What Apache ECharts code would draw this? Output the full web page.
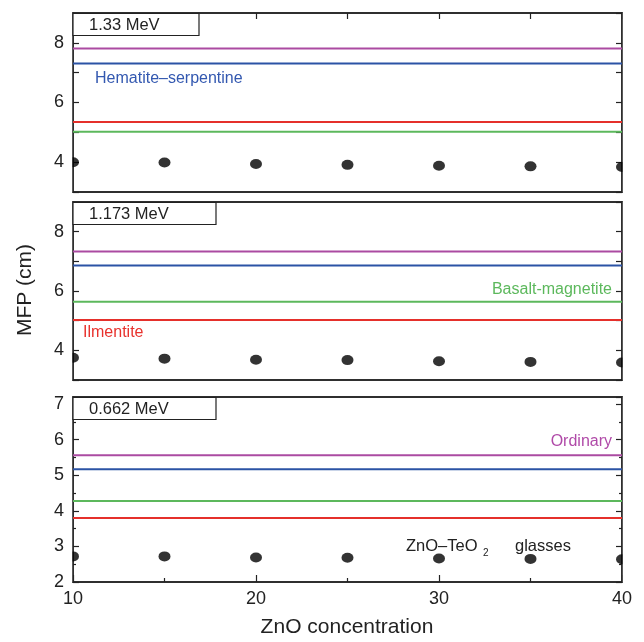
<!DOCTYPE html>
<html>
<head>
<meta charset="utf-8">
<script src="https://cdn.jsdelivr.net/npm/echarts@6/dist/echarts.min.js"></script>
<style>html,body{margin:0;padding:0;background:#fff}#c{width:644px;height:642px}</style>
</head>
<body>
<div id="c"></div>
<script>
// ---- data ----
const energies = ['1.33 MeV', '1.173 MeV', '0.662 MeV'];
const zno = [10, 15, 20, 25, 30, 35, 40];
const glass133 = [4.00, 3.99, 3.94, 3.91, 3.88, 3.86, 3.84];
const glass1173 = [3.75, 3.72, 3.68, 3.67, 3.63, 3.61, 3.59];
const glass0662 = [2.72, 2.72, 2.69, 2.68, 2.66, 2.65, 2.64];
const ordinary = [7.81, 7.33, 5.56];
const hematiteSerpentine = [7.31, 6.86, 5.17];
const basaltMagnetite = [5.02, 5.64, 4.28];
const ilmenite = [5.35, 5.02, 3.80];
const yMin = [3, 3, 2];
const yMax = [9, 9, 7.2];
const xTicks = [10, 20, 30, 40];

const glassSets = [glass133, glass1173, glass0662];
const FONT = '"Liberation Sans", Arial, sans-serif';
const AX = '#222';
const C = { purple: '#ab4ba2', blue: '#2b53a5', red: '#e5302b', green: '#5cb85c' };

const grids = [
  { left: 73, right: 22, top: 13, height: 179 },
  { left: 73, right: 22, top: 202, height: 178 },
  { left: 73, right: 22, top: 397, height: 185 }
].map(g => Object.assign(g, { show: true, borderColor: AX, borderWidth: 1.5, backgroundColor: 'transparent' }));

const xAxes = [], yAxes = [], series = [];
for (let i = 0; i < 3; i++) {
  const isBottom = i === 2;
  xAxes.push({
    type: 'value', gridIndex: i, min: 10, max: 40, interval: 10, position: 'bottom',
    axisLine: { show: true, lineStyle: { color: AX, width: 1.5 } },
    axisTick: { show: isBottom, inside: true, length: 7, lineStyle: { color: AX, width: 1.2 } },
    minorTick: { show: isBottom, splitNumber: 2, length: 4, lineStyle: { color: AX, width: 1.2 } },
    axisLabel: { show: isBottom, fontFamily: FONT, fontSize: 18, color: '#222', margin: 8,
      formatter: v => xTicks.indexOf(v) >= 0 ? String(v) : '' },
    splitLine: { show: false }
  });
  xAxes.push({
    type: 'value', gridIndex: i, min: 10, max: 40, interval: 5, position: 'top',
    axisLine: { show: true, lineStyle: { color: AX, width: 1.5 } },
    axisTick: { show: i === 0, inside: true, length: 6, lineStyle: { color: AX, width: 1.2 } },
    axisLabel: { show: false }, splitLine: { show: false }
  });
  const yCommon = {
    type: 'value', gridIndex: i, min: yMin[i], max: yMax[i], interval: 1,
    axisLine: { show: true, lineStyle: { color: AX, width: 1.5 } },
    axisTick: { show: true, inside: true, length: 6, lineStyle: { color: AX, width: 1.2 } },
    minorTick: { show: isBottom, splitNumber: 2, length: 3, lineStyle: { color: AX, width: 1.2 } },
    splitLine: { show: false }
  };
  yAxes.push(Object.assign({}, yCommon, {
    position: 'left',
    axisLabel: { show: true, fontFamily: FONT, fontSize: 18, color: '#222', margin: 9,
      formatter: v => {
        if (Math.abs(v - Math.round(v)) > 1e-6) return '';
        if (!isBottom && Math.round(v) % 2 !== 0) return '';
        return String(Math.round(v));
      } }
  }));
  yAxes.push(Object.assign({}, yCommon, { position: 'right', axisLabel: { show: false } }));

  const hl = (vals, color) => ({
    type: 'line', xAxisIndex: 2 * i, yAxisIndex: 2 * i, symbol: 'none', silent: true,
    lineStyle: { color, width: 2 }, data: [[10, vals[i]], [40, vals[i]]], z: 2
  });
  series.push(hl(ordinary, C.purple), hl(hematiteSerpentine, C.blue), hl(ilmenite, C.red), hl(basaltMagnetite, C.green));
  series.push({
    type: 'scatter', xAxisIndex: 2 * i, yAxisIndex: 2 * i, symbol: 'circle', symbolSize: [12, 10],
    clip: true, itemStyle: { color: '#000' }, z: 3,
    data: zno.map((x, k) => [x, glassSets[i][k]])
  });
}

const txt = (x, y, text, color, opts, z) => ({
  type: 'text', x, y, silent: true, z: z || 50,
  style: Object.assign({ text, fill: color, font: '16px ' + FONT, textVerticalAlign: 'middle', textAlign: 'left' }, opts || {})
});

const boxW = [126, 143, 143];
const decor = [];
for (let i = 0; i < 3; i++) {
  const g = grids[i];
  // white masks so the end markers appear cut by the frame
  decor.push({ type: 'rect', silent: true, z: 40, shape: { x: 64, y: g.top, width: 8.2, height: g.height }, style: { fill: '#fff' } });
  decor.push({ type: 'rect', silent: true, z: 40, shape: { x: 622.8, y: g.top, width: 10, height: g.height }, style: { fill: '#fff' } });
  decor.push({ type: 'rect', silent: true, shape: { x: 73, y: g.top + 0.5, width: boxW[i], height: 22 },
    style: { fill: '#fff', stroke: '#222', lineWidth: 1.2 }, z: 100 });
  decor.push(txt(89, g.top + 12, energies[i], '#222', { font: '16.5px ' + FONT }, 101));
}

const graphics = decor.concat([
  txt(95, 79, 'Hematite–serpentine', '#3358b0'),
  txt(612, 290, 'Basalt-magnetite', '#5cb85c', { textAlign: 'right' }),
  txt(83, 333, 'Ilmentite', '#e8322d'),
  txt(612, 442, 'Ordinary', '#b04aa8', { textAlign: 'right' }),
  txt(406, 546, 'ZnO–TeO', '#222', { font: '16.5px ' + FONT }),
  txt(483, 553, '2', '#222', { font: '10px ' + FONT }),
  txt(515, 546, 'glasses', '#222', { font: '16.5px ' + FONT }),
  { type: 'text', x: 25, y: 290, rotation: Math.PI / 2, silent: true, z: 50,
    style: { text: 'MFP (cm)', fill: '#222', font: '21px ' + FONT, textAlign: 'center', textVerticalAlign: 'middle' } },
  txt(347, 627, 'ZnO concentration', '#222', { font: '21px ' + FONT, textAlign: 'center' })
]);

const chart = echarts.init(document.getElementById('c'), null, { renderer: 'canvas' });
chart.setOption({
  animation: false,
  backgroundColor: '#fff',
  grid: grids,
  xAxis: xAxes,
  yAxis: yAxes,
  series,
  graphic: graphics
});
</script>
</body>
</html>
